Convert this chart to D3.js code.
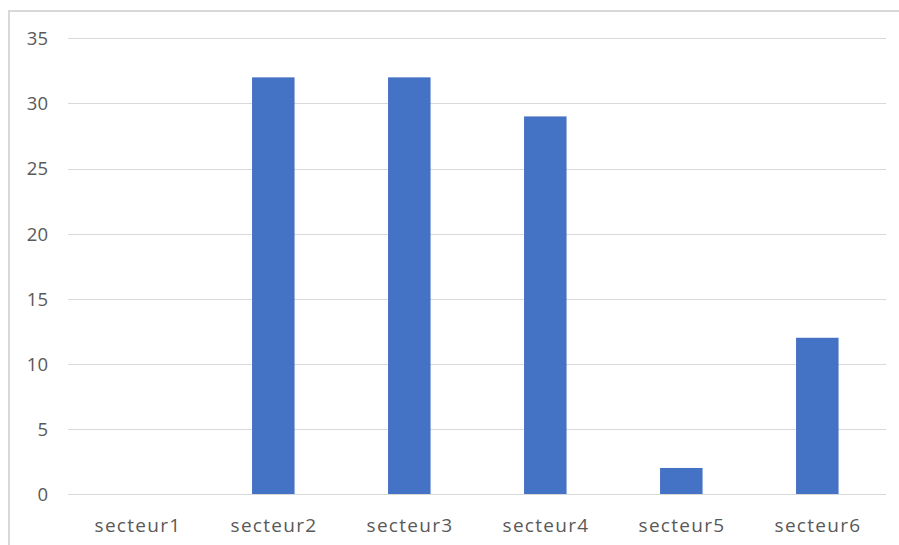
<!DOCTYPE html>
<html>
<head>
<meta charset="utf-8">
<script src="https://cdn.jsdelivr.net/npm/d3@7"></script>
<style>
  html, body { margin: 0; padding: 0; background: #fff; overflow: hidden; }
  svg { display: block; }
  .tick-label { font-family: "Open Sans", "Noto Sans", sans-serif; font-size: 18px; fill: #595959; }
</style>
</head>
<body>
<svg id="chart" width="899" height="545"></svg>
<script>
// Chart data
const categories = ["secteur1", "secteur2", "secteur3", "secteur4", "secteur5", "secteur6"];
const values = [0, 32, 32, 29, 2, 12];
const yTicks = [0, 5, 10, 15, 20, 25, 30, 35];

const W = 899, H = 545;
const plot = { left: 69.3, right: 885.3, top: 38.3, bottom: 494 };

const svg = d3.select("#chart");

// Chart area frame
svg.append("rect")
  .attr("x", 9).attr("y", 11)
  .attr("width", 1000).attr("height", 1000)
  .attr("fill", "none")
  .attr("stroke", "#d9d9d9")
  .attr("stroke-width", 2);

const x = d3.scaleBand()
  .domain(categories)
  .range([plot.left, plot.right])
  .paddingInner(0.6875)
  .paddingOuter(0.34375);

const y = d3.scaleLinear()
  .domain([0, 35])
  .range([plot.bottom, plot.top]);

// Horizontal gridlines and value labels
const yAxis = d3.axisLeft(y)
  .tickValues(yTicks)
  .tickSize(-(plot.right - plot.left + 1.5))
  .tickPadding(20)
  .tickFormat(d3.format("d"));

const gy = svg.append("g")
  .attr("transform", `translate(${plot.left - 1.3},0)`)
  .call(yAxis);
gy.select(".domain").remove();
gy.selectAll(".tick line")
  .attr("stroke", "#d9d9d9")
  .attr("stroke-width", 1)
  .attr("shape-rendering", "crispEdges");
gy.selectAll(".tick text")
  .attr("class", "tick-label")
  .attr("x", -20)
  .attr("dy", "0.35em")
  .style("font-size", "18.5px");

// Bars
svg.append("g")
  .selectAll("rect")
  .data(categories.map((c, i) => ({ c, v: values[i] })))
  .join("rect")
  .attr("x", d => x(d.c))
  .attr("width", x.bandwidth())
  .attr("y", d => y(d.v))
  .attr("height", d => y(0) - y(d.v))
  .attr("fill", "#4472c4");

// Category labels
const xAxis = d3.axisBottom(x).tickSize(0).tickPadding(0);
const gx = svg.append("g")
  .attr("transform", `translate(0,${plot.bottom})`)
  .call(xAxis);
gx.select(".domain").remove();
gx.selectAll(".tick text")
  .attr("class", "tick-label")
  .attr("y", 37.5)
  .attr("dy", 0)
  .attr("dx", 0.7)
  .style("letter-spacing", "1.3px")
  .style("font-size", "19px");
</script>
</body>
</html>
